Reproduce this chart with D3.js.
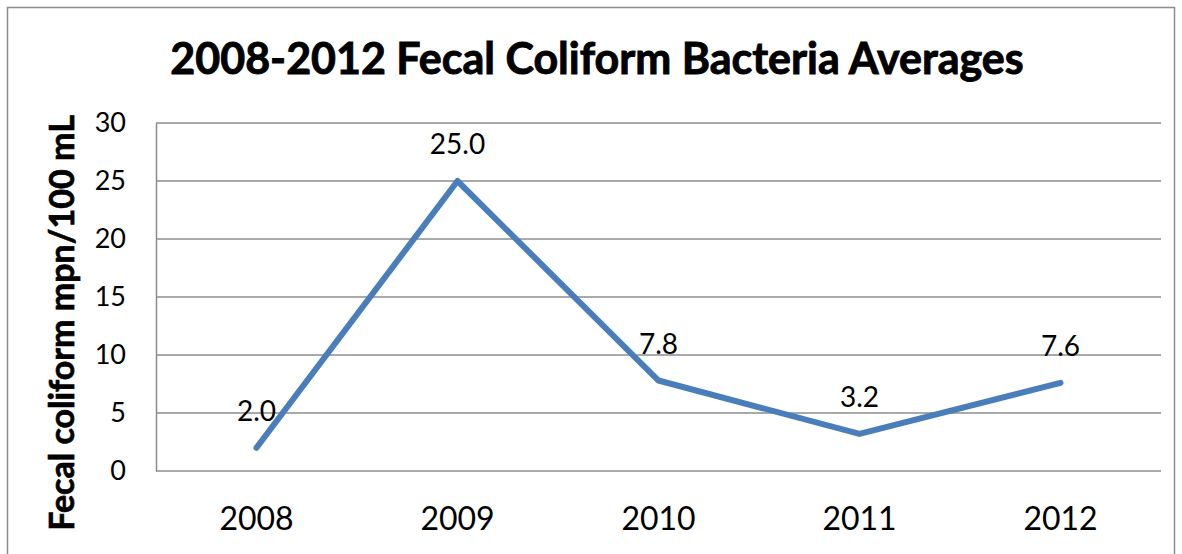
<!DOCTYPE html>
<html>
<head>
<meta charset="utf-8">
<script src="https://cdn.jsdelivr.net/npm/d3@7"></script>
<style>
  html, body { margin: 0; padding: 0; background: #fff; }
  svg { display: block; font-family: Lato, "Open Sans", sans-serif; }
</style>
</head>
<body>
<svg id="chart" width="1182" height="554"></svg>
<script>
// Yearly averages of fecal coliform (mpn/100 mL)
const years = ["2008", "2009", "2010", "2011", "2012"];
const averages = [2.0, 25.0, 7.8, 3.2, 7.6];
const yTicks = [0, 5, 10, 15, 20, 25, 30];

const chartTitle = "2008-2012 Fecal Coliform Bacteria Averages";
const yTitle = "Fecal coliform mpn/100 mL";

const svg = d3.select("#chart");
const W = 1182, H = 554;
const plot = { left: 156, right: 1161, top: 123, bottom: 471 };

// outer frame
svg.append("rect")
  .attr("x", 7.5).attr("y", 7.5)
  .attr("width", W - 15).attr("height", H)
  .attr("fill", "#fff").attr("stroke", "#8c8c8c").attr("stroke-width", 1.5);

const x = d3.scaleBand().domain(years).range([plot.left, plot.right]);
const y = d3.scaleLinear().domain([0, 30]).range([plot.bottom, plot.top]);

// horizontal gridlines
svg.append("g")
  .selectAll("line")
  .data(yTicks)
  .join("line")
  .attr("x1", plot.left).attr("x2", plot.right)
  .attr("y1", d => y(d)).attr("y2", d => y(d))
  .attr("stroke", "#8c8c8c").attr("stroke-width", 1.5);

// y axis
const yAxis = svg.append("g")
  .attr("transform", `translate(${plot.left},0)`)
  .call(d3.axisLeft(y).tickValues(yTicks).tickSize(0).tickPadding(30));
yAxis.select(".domain").attr("stroke", "#8c8c8c").attr("stroke-width", 1.5);
yAxis.selectAll("text")
  .attr("font-family", "Lato, sans-serif")
  .attr("font-size", 27).attr("fill", "#000");

// x axis (labels only)
const xAxis = svg.append("g")
  .attr("transform", `translate(0,${plot.bottom})`)
  .call(d3.axisBottom(x).tickSize(0).tickPadding(36));
xAxis.select(".domain").remove();
xAxis.selectAll("text")
  .attr("font-family", "Lato, sans-serif")
  .attr("font-size", 32).attr("fill", "#000");

// data line
const pts = years.map((yr, i) => ({ yr, v: averages[i] }));
const line = d3.line()
  .x(d => x(d.yr) + x.bandwidth() / 2)
  .y(d => y(d.v));
svg.append("path")
  .datum(pts)
  .attr("d", line)
  .attr("fill", "none")
  .attr("stroke", "#4a7ebb")
  .attr("stroke-width", 6)
  .attr("stroke-linejoin", "round")
  .attr("stroke-linecap", "round");

// value labels
svg.append("g")
  .selectAll("text")
  .data(pts)
  .join("text")
  .attr("x", d => x(d.yr) + x.bandwidth() / 2)
  .attr("y", d => y(d.v) - 27)
  .attr("text-anchor", "middle")
  .attr("font-size", 28)
  .attr("fill", "#000")
  .text(d => d.v.toFixed(1));

// title
svg.append("text")
  .attr("x", 597).attr("y", 74)
  .attr("text-anchor", "middle")
  .attr("font-size", 43).attr("font-weight", "bold")
  .attr("fill", "#000").attr("stroke", "#000").attr("stroke-width", 0.9)
  .text(chartTitle);

// y axis title
svg.append("text")
  .attr("transform", "translate(74,323) rotate(-90)")
  .attr("text-anchor", "middle")
  .attr("font-size", 34).attr("font-weight", "bold")
  .attr("fill", "#000").attr("stroke", "#000").attr("stroke-width", 0.7)
  .text(yTitle);
</script>
</body>
</html>
